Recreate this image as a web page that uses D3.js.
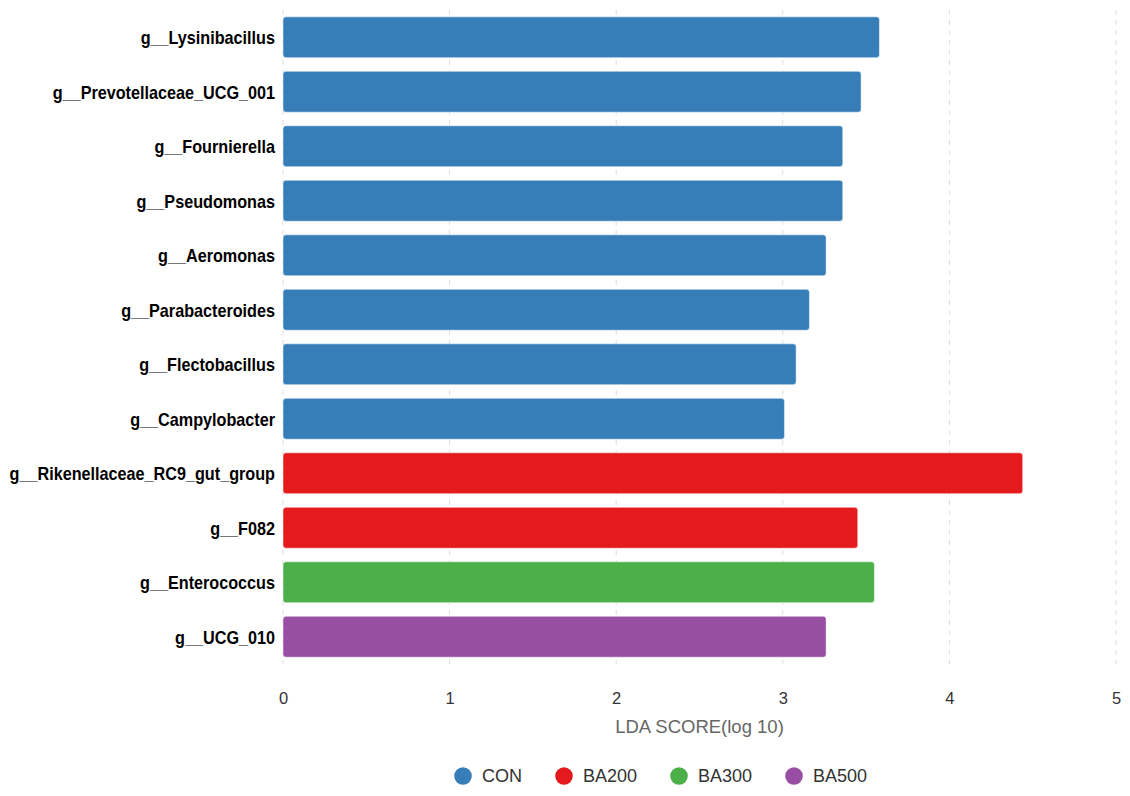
<!DOCTYPE html>
<html>
<head>
<meta charset="utf-8">
<script src="https://cdn.jsdelivr.net/npm/d3@7"></script>
<style>
    body { margin: 0; background: #fff; }
    svg { font-family: "Liberation Sans", Arial, sans-serif; }
</style>
</head>
<body>
<svg id="lda_svg" width="1130" height="796"></svg>
<script>
// LEfSe LDA scores, top to bottom
var genera = ["g__Lysinibacillus", "g__Prevotellaceae_UCG_001", "g__Fournierella", "g__Pseudomonas",
    "g__Aeromonas", "g__Parabacteroides", "g__Flectobacillus", "g__Campylobacter",
    "g__Rikenellaceae_RC9_gut_group", "g__F082", "g__Enterococcus", "g__UCG_010"];
var scores = [3.58, 3.47, 3.36, 3.36, 3.26, 3.16, 3.08, 3.01, 4.44, 3.45, 3.55, 3.26];
var groupOf = ["CON", "CON", "CON", "CON", "CON", "CON", "CON", "CON",
    "BA200", "BA200", "BA300", "BA500"];
var groups = ["CON", "BA200", "BA300", "BA500"];
var groupColors = ["#377eb8", "#e41a1c", "#4daf4a", "#984ea3"];
var xTicks = [0, 1, 2, 3, 4, 5];

var svg = d3.select("#lda_svg");

var rows = genera.map(function (g, i) {
    return { name: g, score: scores[i], group: groupOf[i] };
});

var scaleX = d3.scaleLinear()
    .domain([0, 5])
    .range([283, 1116]);

var scaleY = d3.scaleBand()
    .domain(genera)
    .range([10, 664])
    .paddingInner(0.25)
    .paddingOuter(0.125);

var color = d3.scaleOrdinal()
    .domain(groups)
    .range(groupColors);

// dashed grid
svg.selectAll('.grid')
    .data(xTicks)
    .enter().append('line')
    .classed('grid', true)
    .attr('x1', function (d) { return scaleX(d); })
    .attr('x2', function (d) { return scaleX(d); })
    .attr('y1', 10)
    .attr('y2', 664)
    .attr('stroke', '#dcdcdc')
    .attr('stroke-width', 1)
    .attr('stroke-dasharray', '5,5');

// bars
svg.selectAll('.bar')
    .data(rows)
    .enter().append('rect')
    .classed('bar', true)
    .attr('x', scaleX(0))
    .attr('y', function (d) { return scaleY(d.name); })
    .attr('width', function (d) { return scaleX(d.score) - scaleX(0); })
    .attr('height', scaleY.bandwidth())
    .attr('rx', 3)
    .attr('ry', 3)
    .attr('fill', function (d) { return color(d.group); })
    .attr('stroke', '#fff')
    .attr('stroke-width', 0.5);

// genus labels (slightly condensed, like the original)
svg.selectAll('.label')
    .data(rows)
    .enter().append('text')
    .classed('label', true)
    .attr('transform', function (d) {
        return 'translate(275,' + (scaleY(d.name) + scaleY.bandwidth() / 2) + ') scale(0.9,1)';
    })
    .attr('dy', '0.4em')
    .attr('text-anchor', 'end')
    .attr('font-size', 18)
    .attr('font-weight', 'bold')
    .attr('fill', '#000')
    .text(function (d) { return d.name; });

// x axis
var xAxis = d3.axisBottom(scaleX)
    .tickValues(xTicks)
    .tickSize(0)
    .tickPadding(0)
    .tickFormat(d3.format('d'));

var gx = svg.append('g')
    .attr('transform', 'translate(0,692)')
    .call(xAxis);
gx.select('.domain').remove();
gx.selectAll('text')
    .attr('font-size', 16.5)
    .attr('fill', '#333')
    .attr('font-family', '"Liberation Sans", Arial, sans-serif');

svg.append('text')
    .attr('x', (scaleX(0) + scaleX(5)) / 2)
    .attr('y', 733)
    .attr('text-anchor', 'middle')
    .attr('font-size', 18.5)
    .attr('fill', '#666')
    .text('LDA SCORE(log 10)');

// legend
var legendX = [463, 564, 679, 794];
var legend = svg.selectAll('.legend')
    .data(groups)
    .enter().append('g')
    .classed('legend', true)
    .attr('transform', function (d, i) { return 'translate(' + legendX[i] + ',776)'; });

legend.append('circle')
    .attr('r', 8.8)
    .attr('fill', function (d) { return color(d); });

legend.append('text')
    .attr('x', 19)
    .attr('dy', '0.35em')
    .attr('font-size', 18)
    .attr('fill', '#333')
    .text(function (d) { return d; });
</script>
</body>
</html>
